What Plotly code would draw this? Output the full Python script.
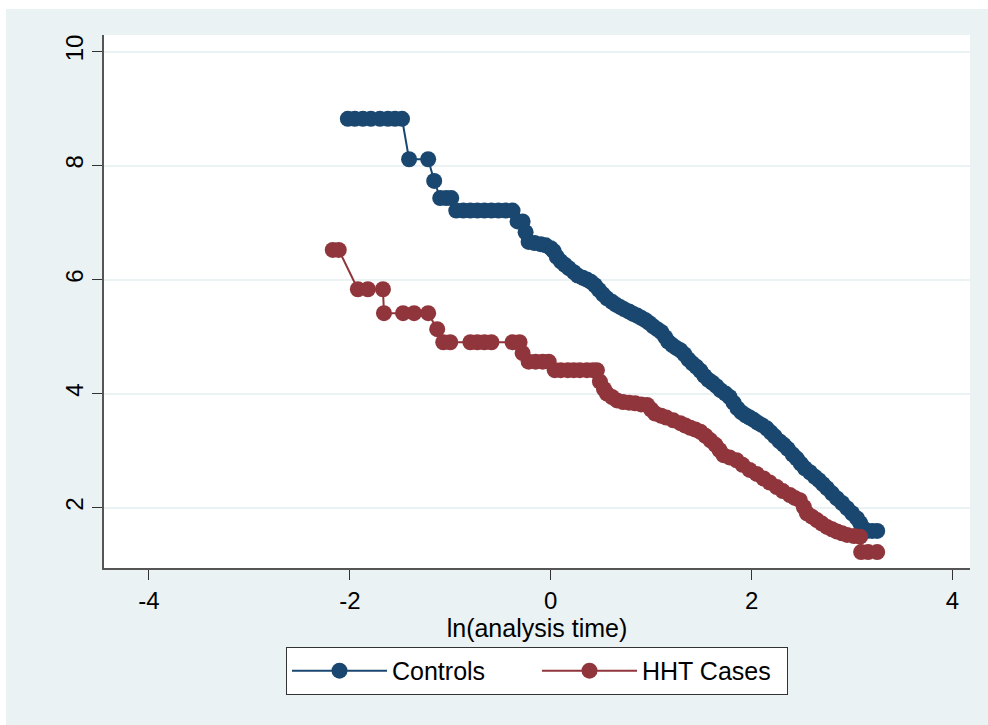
import plotly.graph_objects as go

# ---- data ----
controls_x = [-2.02, -1.95, -1.87, -1.79, -1.70, -1.62, -1.55, -1.48,
              -1.41, -1.22, -1.16, -1.10, -1.04, -0.99,
              -0.94, -0.87, -0.80, -0.73, -0.66, -0.59, -0.52, -0.45, -0.38,
              -0.33, -0.28, -0.25, -0.22, -0.16, -0.10, -0.05,
              0.00, 0.03, 0.06, 0.10, 0.14, 0.18, 0.23, 0.27, 0.32, 0.36, 0.40,
              0.44, 0.48, 0.52, 0.56, 0.61, 0.65, 0.69, 0.73, 0.78, 0.82,
              0.86, 0.90, 0.94, 0.98, 1.02, 1.06, 1.10, 1.14, 1.17, 1.21,
              1.25, 1.29, 1.33, 1.37, 1.41, 1.45, 1.49, 1.53, 1.57, 1.61,
              1.65, 1.69, 1.74, 1.78, 1.82, 1.86, 1.90, 1.94, 1.98, 2.02,
              2.06, 2.10, 2.15, 2.19, 2.23, 2.28, 2.32, 2.36, 2.41, 2.45,
              2.49, 2.53, 2.58, 2.63, 2.67, 2.71, 2.75, 2.80, 2.85, 2.90,
              2.95, 3.00, 3.05, 3.08, 3.11, 3.15, 3.20, 3.25]
controls_y = [8.82, 8.82, 8.82, 8.82, 8.82, 8.82, 8.82, 8.82,
              8.11, 8.11, 7.73, 7.43, 7.43, 7.43,
              7.21, 7.21, 7.21, 7.21, 7.21, 7.21, 7.21, 7.21, 7.21,
              7.02, 7.02, 6.83, 6.66, 6.64, 6.62, 6.60,
              6.55, 6.50, 6.40, 6.32, 6.26, 6.20, 6.13, 6.07, 6.03, 6.00, 5.96,
              5.90, 5.82, 5.74, 5.67, 5.61, 5.56, 5.52, 5.48, 5.44, 5.40,
              5.37, 5.33, 5.29, 5.24, 5.18, 5.13, 5.08, 4.99, 4.91, 4.85,
              4.80, 4.76, 4.69, 4.60, 4.53, 4.47, 4.40, 4.31, 4.24, 4.19,
              4.13, 4.06, 4.00, 3.94, 3.84, 3.74, 3.67, 3.62, 3.58, 3.54,
              3.49, 3.45, 3.39, 3.32, 3.25, 3.16, 3.10, 3.03, 2.93, 2.86,
              2.77, 2.69, 2.62, 2.54, 2.48, 2.41, 2.34, 2.25, 2.16, 2.08,
              1.99, 1.90, 1.81, 1.73, 1.64, 1.59, 1.59, 1.59]

cases_x = [-2.17, -2.11, -1.92, -1.82, -1.67,
           -1.66, -1.47, -1.36, -1.22, -1.13,
           -1.07, -1.00, -0.80, -0.73, -0.66, -0.59, -0.38, -0.31,
           -0.28, -0.22, -0.15, -0.08, -0.02,
           0.04, 0.10, 0.17, 0.23, 0.29, 0.36, 0.42, 0.46,
           0.49, 0.53, 0.56, 0.61, 0.66, 0.72, 0.78, 0.84, 0.90, 0.96,
           1.00, 1.04, 1.10, 1.15, 1.22, 1.29, 1.34, 1.39, 1.44, 1.49,
           1.54, 1.59, 1.64, 1.68, 1.72, 1.78, 1.85, 1.91, 1.98, 2.05,
           2.12, 2.18, 2.25, 2.31, 2.38, 2.43, 2.48, 2.52, 2.55, 2.60,
           2.65, 2.70, 2.75, 2.80, 2.85, 2.90, 2.95, 3.02, 3.08,
           3.09, 3.16, 3.25]
cases_y = [6.52, 6.52, 5.83, 5.83, 5.83,
           5.41, 5.41, 5.41, 5.41, 5.13,
           4.90, 4.90, 4.90, 4.90, 4.90, 4.90, 4.90, 4.90,
           4.71, 4.56, 4.56, 4.56, 4.56,
           4.41, 4.41, 4.41, 4.41, 4.41, 4.41, 4.41, 4.41,
           4.21, 4.08, 4.00, 3.94, 3.88, 3.85, 3.84, 3.83, 3.81, 3.80,
           3.72, 3.65, 3.61, 3.58, 3.53, 3.48, 3.44, 3.40, 3.37, 3.33,
           3.26, 3.18, 3.10, 3.01, 2.92, 2.88, 2.83, 2.75, 2.66, 2.59,
           2.51, 2.44, 2.36, 2.29, 2.22, 2.17, 2.13, 2.01, 1.90, 1.84,
           1.78, 1.72, 1.66, 1.62, 1.58, 1.55, 1.52, 1.50, 1.49,
           1.22, 1.22, 1.22]

x_ticks = [-4, -2, 0, 2, 4]
y_ticks = [2, 4, 6, 8, 10]
series_names = ["Controls", "HHT Cases"]
x_title = "ln(analysis time)"

NAVY = "#1A476F"
MAROON = "#90353B"
BG = "#EAF2F3"
FONT = "Arial, Liberation Sans, sans-serif"

fig = go.Figure()
fig.add_trace(go.Scatter(x=controls_x, y=controls_y, mode="lines+markers",
                         name=series_names[0],
                         line=dict(color=NAVY, width=2),
                         marker=dict(color=NAVY, size=16)))
fig.add_trace(go.Scatter(x=cases_x, y=cases_y, mode="lines+markers",
                         name=series_names[1],
                         line=dict(color=MAROON, width=2),
                         marker=dict(color=MAROON, size=16)))

fig.update_layout(
    width=988, height=725,
    margin=dict(l=104, r=18, t=35, b=157),
    paper_bgcolor="white",
    plot_bgcolor="white",
    font=dict(family=FONT, color="black", size=24),
    showlegend=True,
    legend=dict(orientation="h", x=0.5, xanchor="center", y=-0.148, yanchor="top",
                bgcolor="white", bordercolor="#333333", borderwidth=1,
                font=dict(size=25, family=FONT),
                itemwidth=95, entrywidthmode="pixels", entrywidth=140,
                itemclick=False),
    shapes=[
        dict(type="rect", xref="paper", yref="paper", x0=-0.1132, x1=1.03,
             y0=-0.32, y1=1.0488, fillcolor=BG, line=dict(width=0), layer="below"),
        dict(type="rect", xref="paper", yref="paper", x0=0, x1=1,
             y0=0, y1=1, fillcolor="white", line=dict(width=0), layer="below"),
    ],
)

fig.update_xaxes(range=[-4.447, 4.174], tickvals=x_ticks,
                 ticktext=[str(v) for v in x_ticks],
                 showgrid=False, zeroline=False,
                 showline=True, linecolor="#555555", linewidth=1.5,
                 ticks="outside", ticklen=10, tickcolor="#333333", tickwidth=1,
                 tickfont=dict(size=24, family=FONT),
                 title=dict(text=x_title, font=dict(size=25, family=FONT), standoff=0))
fig.update_yaxes(range=[0.94, 10.29], tickvals=y_ticks,
                 ticktext=[str(v) for v in y_ticks],
                 showgrid=True, gridcolor=BG, gridwidth=2, zeroline=False,
                 showline=True, linecolor="#555555", linewidth=1.5,
                 ticks="outside", ticklen=10, tickcolor="#333333", tickwidth=1,
                 tickangle=-90,
                 tickfont=dict(size=24, family=FONT))

fig.write_html("out.html")
